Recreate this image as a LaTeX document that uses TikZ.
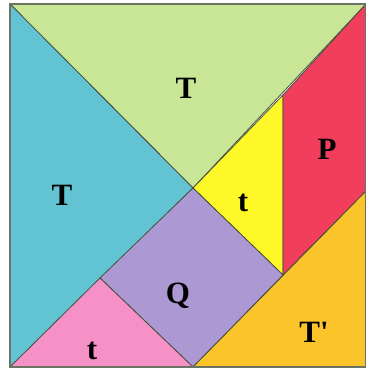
\documentclass[tikz,border=0pt]{standalone}
\usepackage{fontspec}
\setmainfont{Liberation Serif}
\definecolor{cgreen}{RGB}{200,230,150}
\definecolor{cblue}{RGB}{98,195,210}
\definecolor{cyellow}{RGB}{255,248,40}
\definecolor{cred}{RGB}{240,62,92}
\definecolor{cpurple}{RGB}{172,152,210}
\definecolor{cpink}{RGB}{246,145,200}
\definecolor{corange}{RGB}{250,196,42}
\definecolor{cedge}{RGB}{70,80,60}
\begin{document}
\begin{tikzpicture}[x=1pt,y=-1pt,
  piece/.style={draw=cedge,line width=0.8pt,line join=round},
  lbl/.style={font=\fontsize{31}{31}\selectfont\bfseries,text=black,inner sep=0pt}]
\useasboundingbox (0,0) rectangle (366,369);
\coordinate (A) at (10,4);
\coordinate (B) at (366,4);
\coordinate (C) at (10,367);
\coordinate (D) at (366,367);
\coordinate (O) at (193,188);
\coordinate (E) at (283,95);
\coordinate (F) at (283,275);
\coordinate (G) at (366,191);
\coordinate (H) at (193,367);
\coordinate (I) at (100,278);
\fill[white] (0,0) rectangle (366,369);
\filldraw[piece,fill=cgreen] (A) -- (B) -- (O) -- cycle;
\filldraw[piece,fill=cblue] (A) -- (O) -- (C) -- cycle;
\filldraw[piece,fill=cyellow] (O) -- (E) -- (F) -- cycle;
\filldraw[piece,fill=cred] (E) -- (B) -- (G) -- (F) -- cycle;
\filldraw[piece,fill=cpurple] (O) -- (F) -- (H) -- (I) -- cycle;
\filldraw[piece,fill=cpink] (I) -- (H) -- (C) -- cycle;
\filldraw[piece,fill=corange] (G) -- (D) -- (H) -- cycle;
\draw[draw=cedge!80,line width=1.2pt] (A) rectangle (D);
\node[lbl] (lT1) at (186,88) {T};
\node[lbl] (lT2) at (62,195) {T};
\node[lbl] (lt1) at (243,203) {t};
\node[lbl] (lP) at (327,149) {P};
\node[lbl] (lQ) at (178,296) {Q};
\node[lbl] (lt2) at (92,351) {t};
\node[lbl] (lT3) at (314,332) {T\XeTeXglyph\XeTeXglyphindex "quotesingle"\relax};
\end{tikzpicture}
\end{document}
